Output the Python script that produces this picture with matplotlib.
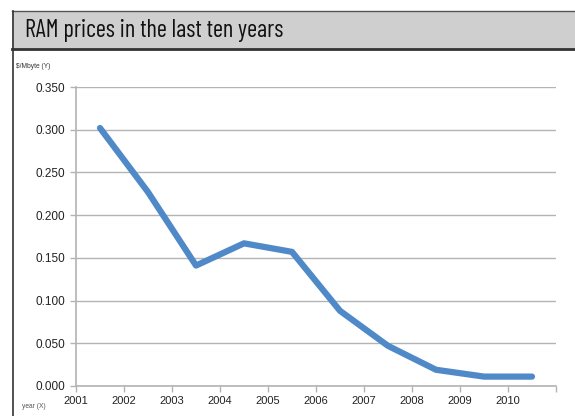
import matplotlib
matplotlib.use("Agg")
import matplotlib.pyplot as plt
from matplotlib.patches import Rectangle
from matplotlib.lines import Line2D

years = ["2001", "2002", "2003", "2004", "2005", "2006", "2007", "2008", "2009", "2010"]
prices = [0.302, 0.227, 0.141, 0.167, 0.157, 0.088, 0.047, 0.019, 0.011, 0.011]
yticks = [0.0, 0.05, 0.10, 0.15, 0.20, 0.25, 0.30, 0.35]

W, H = 575, 416
fig = plt.figure(figsize=(W / 100, H / 100), dpi=100)
fig.patch.set_facecolor("white")

def fx(px):
    return px / W

def fy(py):
    return 1 - py / H

fig.patches.append(Rectangle((fx(12), fy(49)), fx(575 - 12), (49 - 11) / H,
                             transform=fig.transFigure, facecolor="#cfcfcf",
                             edgecolor="none", zorder=0))
fig.lines.append(Line2D([fx(12), 1], [fy(11), fy(11)], transform=fig.transFigure,
                        color="#555555", lw=1.0))
fig.lines.append(Line2D([fx(12), 1], [fy(49), fy(49)], transform=fig.transFigure,
                        color="#333333", lw=2.0))
fig.lines.append(Line2D([fx(12.5), fx(12.5)], [fy(11), 0], transform=fig.transFigure,
                        color="#333333", lw=1.2))

fig.text(fx(25), fy(31), "RAM prices in the last ten years", fontsize=17.5,
         family=["Barlow Condensed", "Encode Sans Condensed", "DejaVu Sans"],
         weight="normal", color="#111111", va="center", ha="left")

fig.text(fx(16), fy(66), "$/Mbyte (Y)", fontsize=4.8, family="Liberation Sans",
         color="#333333", va="center", ha="left")
fig.text(fx(22), fy(406), "year (X)", fontsize=4.8, family="Liberation Sans",
         color="#555555", va="center", ha="left")

ax = fig.add_axes([fx(76), fy(386), fx(556 - 76), (386 - 87) / H])
xs = [i + 0.5 for i in range(len(prices))]
ax.plot(xs, prices, color="#5089c8", lw=4.5, solid_capstyle="round",
        solid_joinstyle="round", zorder=3)

ax.set_xlim(0, 10)
ax.set_ylim(0, 0.35)
ax.set_yticks(yticks)
ax.set_yticklabels([f"{v:.3f}" for v in yticks])
ax.set_xticks(range(11))
ax.set_xticklabels(years + [""])
ax.grid(axis="y", color="#b3b3b3", lw=1.0)
ax.set_axisbelow(True)
for s in ["top", "right"]:
    ax.spines[s].set_visible(False)
for s in ["left", "bottom"]:
    ax.spines[s].set_color("#b3b3b3")
    ax.spines[s].set_linewidth(1.2)
ax.tick_params(axis="both", colors="#b3b3b3", length=4, width=1.0,
               labelcolor="#222222", labelsize=8)
ax.tick_params(axis="y", pad=4)
ax.tick_params(axis="x", pad=3)
for lab in ax.get_xticklabels() + ax.get_yticklabels():
    lab.set_family("Liberation Sans")
for lab in ax.get_yticklabels():
    lab.set_fontsize(8.5)

fig.savefig("out.png", dpi=100)
